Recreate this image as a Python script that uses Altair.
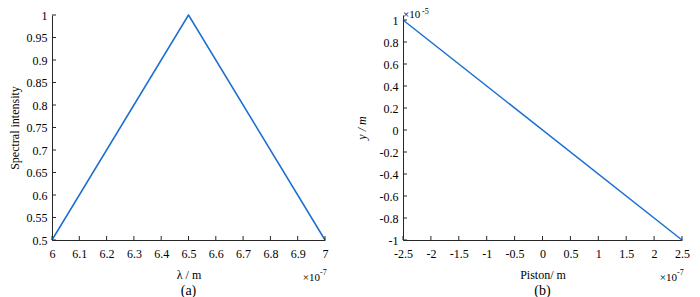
import altair as alt
import pandas as pd

# ---- data ----
# panel (a): spectral intensity vs wavelength (x in units of 1e-7 m)
lam = [6.0, 6.5, 7.0]
intensity = [0.5, 1.0, 0.5]
# panel (b): y (1e-5 m) vs piston (1e-7 m)
piston = [-2.5, 2.5]
yvals = [1.0, -1.0]

a_xticks = [6.0, 6.1, 6.2, 6.3, 6.4, 6.5, 6.6, 6.7, 6.8, 6.9, 7.0]
a_yticks = [0.5, 0.55, 0.6, 0.65, 0.7, 0.75, 0.8, 0.85, 0.9, 0.95, 1.0]
b_xticks = [-2.5, -2.0, -1.5, -1.0, -0.5, 0.0, 0.5, 1.0, 1.5, 2.0, 2.5]
b_yticks = [-1.0, -0.8, -0.6, -0.4, -0.2, 0.0, 0.2, 0.4, 0.6, 0.8, 1.0]

FONT = "Liberation Serif"
BLUE = "#1a6fd0"
AX = "#262626"
WA, WB, H = 273, 279, 225

lbl = "datum.value < 0 ? '-' + format(-datum.value, '~g') : format(datum.value, '~g')"


def axis_x(title, values):
    return alt.Axis(title=title, values=values, labelExpr=lbl, ticks=False,
                    grid=False, labelPadding=8, titlePadding=10, labelOverlap=False,
                    domainColor=AX, labelColor="black", titleColor="black",
                    labelFont=FONT, titleFont=FONT, labelFontSize=12,
                    titleFontSize=12, titleFontWeight="normal", labelFlush=False)


def axis_y(title, values, italic=False, pad=10):
    kw = dict(title=title, values=values, labelExpr=lbl, ticks=False,
              grid=False, labelPadding=5, titlePadding=pad, labelOverlap=False,
              domainColor=AX, labelColor="black", titleColor="black",
              labelFont=FONT, titleFont=FONT, labelFontSize=12,
              titleFontSize=12, titleFontWeight="normal", labelFlush=False)
    if italic:
        kw["titleFontStyle"] = "italic"
    return alt.Axis(**kw)


def txt(s, size, x, y, align="left", baseline="middle"):
    return alt.Chart(pd.DataFrame({"s": [s]})).mark_text(
        font=FONT, fontSize=size, align=align, baseline=baseline, color="black").encode(
        text="s:N", x=alt.value(x), y=alt.value(y))


# ---------- panel (a) ----------
xa = alt.Scale(domain=[6.0, 7.0], nice=False, zero=False)
ya = alt.Scale(domain=[0.5, 1.0], nice=False, zero=False)
axa_x = axis_x("λ / m", a_xticks)
axa_y = axis_y("Spectral intensity", a_yticks, pad=5)
dfa = pd.DataFrame({"x": lam, "y": intensity})

line_a = alt.Chart(dfa).mark_line(color=BLUE, strokeWidth=1.5, strokeJoin="round").encode(
    x=alt.X("x:Q", scale=xa, axis=axa_x),
    y=alt.Y("y:Q", scale=ya, axis=axa_y),
)
tx_a = alt.Chart(pd.DataFrame({"t": a_xticks})).mark_rule(color=AX).encode(
    x=alt.X("t:Q", scale=xa, axis=axa_x), y=alt.value(H), y2=alt.value(H - 4))
ty_a = alt.Chart(pd.DataFrame({"t": a_yticks})).mark_rule(color=AX).encode(
    y=alt.Y("t:Q", scale=ya, axis=axa_y), x=alt.value(0), x2=alt.value(4))

panel_a = alt.layer(
    line_a, tx_a, ty_a,
    txt("×10", 11, WA - 5, H + 38, align="right"),
    txt("-7", 8, WA - 5, H + 33),
    txt("(a)", 14, WA / 2, H + 51, align="center"),
).properties(width=WA, height=H)

# ---------- panel (b) ----------
xb = alt.Scale(domain=[-2.5, 2.5], nice=False, zero=False)
yb = alt.Scale(domain=[-1.0, 1.0 + 2 * 5 / 220], nice=False, zero=False)
axb_x = axis_x("Piston/ m", b_xticks)
axb_y = axis_y("y / m", b_yticks, italic=True, pad=11)
dfb = pd.DataFrame({"x": piston, "y": yvals})

line_b = alt.Chart(dfb).mark_line(color=BLUE, strokeWidth=1.5).encode(
    x=alt.X("x:Q", scale=xb, axis=axb_x),
    y=alt.Y("y:Q", scale=yb, axis=axb_y),
)
tx_b = alt.Chart(pd.DataFrame({"t": b_xticks})).mark_rule(color=AX).encode(
    x=alt.X("t:Q", scale=xb, axis=axb_x), y=alt.value(H), y2=alt.value(H - 4))
ty_b = alt.Chart(pd.DataFrame({"t": b_yticks})).mark_rule(color=AX).encode(
    y=alt.Y("t:Q", scale=yb, axis=axb_y), x=alt.value(0), x2=alt.value(4))

panel_b = alt.layer(
    line_b, tx_b, ty_b,
    txt("×10", 11, WB - 5, H + 38, align="right"),
    txt("-7", 8, WB - 5, H + 33),
    txt("×10", 11, 0, -6, baseline="top"),
    txt("-5", 8, 19, -7, baseline="top"),
    txt("(b)", 14, WB / 2, H + 51, align="center"),
).properties(width=WB, height=H)

chart = alt.hconcat(panel_a, panel_b, spacing=78, bounds="flush").properties(
    padding={"left": 0, "top": 0, "right": 0, "bottom": 0},
    background="white",
).configure_view(stroke=None)

chart.save("out.html", embed_options={"renderer": "svg", "actions": False})
